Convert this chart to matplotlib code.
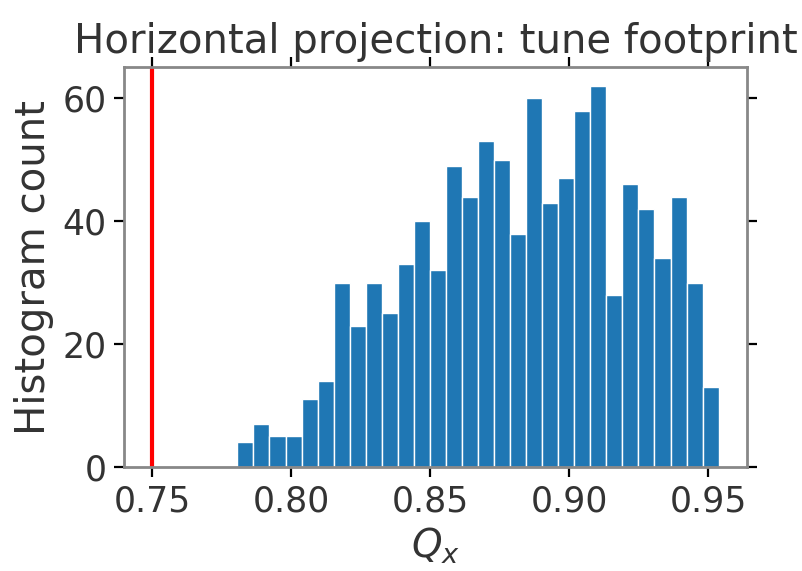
import matplotlib
matplotlib.use("Agg")
import matplotlib.pyplot as plt
import numpy as np

# tune histogram: 30 bins between the lowest and highest Qx
qx_min = 0.7806
qx_max = 0.9537
counts = [4, 7, 5, 5, 11, 14, 30, 23, 30, 25,
          33, 40, 32, 49, 44, 53, 50, 38, 60, 43,
          47, 58, 62, 28, 46, 42, 34, 44, 30, 13]
resonance_qx = 0.75
x_ticks = [0.75, 0.80, 0.85, 0.90, 0.95]
y_ticks = [0, 20, 40, 60]

text_color = "#333333"
plt.rcParams['font.family'] = ['DejaVu Sans']

fig = plt.figure(figsize=(8.02, 5.71), dpi=100)
ax = fig.add_axes([0.1546, 0.182, 0.7768, 0.7007])

edges = np.linspace(qx_min, qx_max, len(counts) + 1)
ax.hist(edges[:-1], bins=edges, weights=counts, color="#1f77b4",
        edgecolor="white", linewidth=1.0)
ax.axvline(resonance_qx, color="red", linewidth=3)

# limits with the usual 5% margins around the data
span = qx_max - resonance_qx
ax.set_xlim(resonance_qx - 0.05 * span, qx_max + 0.05 * span)
ax.set_ylim(0, max(counts) * 1.05)

ax.set_xticks(x_ticks)
ax.set_xticklabels(["%.2f" % t for t in x_ticks])
ax.set_yticks(y_ticks)

ax.tick_params(axis="both", which="major", direction="out", length=7.5,
               width=1.6, color="black", labelcolor=text_color,
               labelsize=25, top=True, right=True, pad=5)
for s in ax.spines.values():
    s.set_color("#888888")
    s.set_linewidth(2)

ax.set_title("Horizontal projection: tune footprint", color=text_color,
             fontsize=29, pad=10)
ax.set_xlabel("$Q_x$", color=text_color, fontsize=28, labelpad=5)
ax.set_ylabel("Histogram count", color=text_color, fontsize=29, labelpad=6)

fig.savefig("out.png", dpi=100)
